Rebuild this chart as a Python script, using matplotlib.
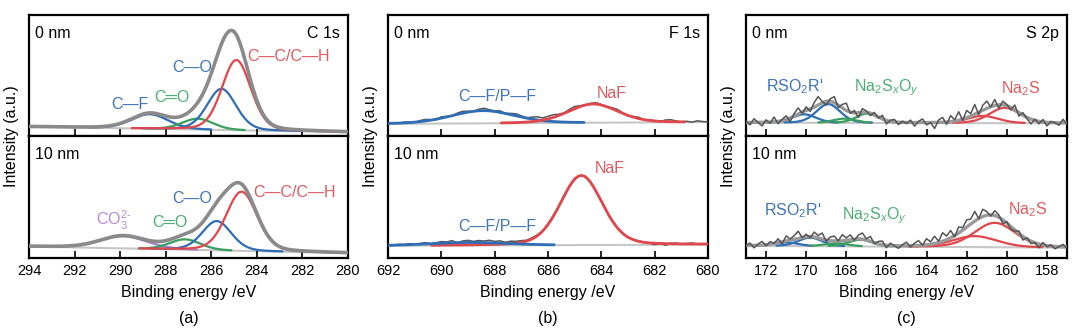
import numpy as np
import matplotlib
matplotlib.use('Agg')
import matplotlib.pyplot as plt

plt.rcParams['font.family'] = ['Liberation Sans', 'DejaVu Sans']
plt.rcParams['mathtext.fontset'] = 'custom'
plt.rcParams['mathtext.rm'] = 'Liberation Sans'
plt.rcParams['mathtext.it'] = 'Liberation Sans:italic'

# ---- data (intensities in axis units, 0..1) ----
# C 1s, 0 nm: peak centre (eV), height, FWHM (eV)
c0_names = ['C—F', 'C═O', 'C—O', 'C—C/C—H']
c0_centers = [288.7, 286.6, 285.55, 284.9]
c0_heights = [0.12, 0.09, 0.34, 0.58]
c0_fwhm = [1.9, 1.6, 1.5, 1.5]
c0_bg = [0.077, 0.032]          # background at 294 eV and 280 eV

# C 1s, 10 nm
c10_names = ['CO$_3^{2\u2010}$', 'C═O', 'C—O', 'C—C/C—H']
c10_centers = [289.85, 287.15, 285.76, 284.67]
c10_heights = [0.10, 0.085, 0.24, 0.485]
c10_fwhm = [2.4, 1.6, 1.5, 1.6]
c10_bg = [0.095, 0.04]

# F 1s, 0 nm
f0_names = ['C—F/P—F', 'NaF']
f0_centers = [688.44, 684.31]
f0_heights = [0.105, 0.155]
f0_fwhm = [2.8, 2.2]
f0_bg = [0.10, 0.115]
f0_resid = [0.000, 0.004, -0.003, 0.006, 0.002, -0.004, 0.008, 0.012, 0.003, -0.006,
            0.010, 0.004, -0.002, 0.009, 0.014, 0.006, -0.003, 0.011, 0.018, 0.007,
            0.002, 0.010, -0.004, 0.006, 0.012, 0.003, -0.005, 0.004, 0.009, -0.002,
            0.006, 0.011, 0.002, -0.003, 0.008, 0.014, 0.004, -0.006, 0.003, 0.010,
            0.002, -0.004, 0.007, 0.012, 0.003, -0.006, 0.004, 0.010, -0.002, 0.005,
            0.001, -0.004, 0.012, 0.016, 0.006, -0.002, 0.004, -0.003, 0.008, 0.002,
            -0.001]

# F 1s, 10 nm
f10_names = ['C—F/P—F', 'NaF']
f10_centers = [689.0, 684.75]
f10_heights = [0.025, 0.57]
f10_fwhm = [3.5, 1.85]
f10_bg = [0.10, 0.11]
f10_resid = [0.002, -0.003, 0.004, 0.000, 0.006, -0.002, 0.003, 0.008, -0.004, 0.002,
             0.010, 0.004, 0.014, -0.006, 0.008, 0.012, 0.003, 0.010, 0.006, 0.013,
             0.004, 0.009, -0.002, 0.006, 0.003, 0.004, -0.002, 0.003, 0.001, -0.003,
             0.004, 0.002, -0.002, 0.005, 0.003, 0.006, -0.002, 0.003, 0.001, -0.003,
             0.004, -0.002, 0.003, -0.001, 0.002, -0.003, 0.004, 0.001, 0.003, 0.000,
             -0.012, 0.004, -0.014, 0.002, 0.006, -0.004, 0.003, 0.008, -0.002, 0.004,
             0.001]

# S 2p, 0 nm (doublets: 2p3/2 and 2p1/2)
s0_names = ['RSO$_2$R\'', 'RSO$_2$R\'', 'Na$_2$S$_x$O$_y$', 'Na$_2$S$_x$O$_y$', 'Na$_2$S', 'Na$_2$S']
s0_centers = [168.9, 170.1, 166.97, 168.1, 160.1, 161.2]
s0_heights = [0.155, 0.07, 0.077, 0.035, 0.127, 0.06]
s0_fwhm = [1.4, 1.4, 1.3, 1.3, 1.8, 1.8]
s0_bg = [0.11, 0.105]
s0_resid = [0.01, -0.02, 0.03, 0.00, -0.03, 0.02, -0.01, 0.04, -0.02, 0.01,
            0.03, -0.03, 0.02, 0.05, -0.01, 0.03, -0.02, 0.04, 0.07, 0.01,
            -0.03, 0.02, 0.05, -0.02, 0.03, 0.06, -0.01, 0.02, -0.04, 0.03,
            0.01, -0.02, 0.02, -0.01, 0.03, -0.03, 0.01, 0.02, -0.02, 0.01,
            -0.01, 0.02, -0.03, 0.01, 0.03, -0.02, 0.00, -0.05, 0.02, 0.04,
            -0.02, 0.05, 0.01, 0.07, -0.01, 0.06, 0.02, 0.08, -0.02, 0.04,
            0.06, 0.00, 0.05, -0.03, 0.03, 0.01, -0.02, 0.04, -0.03, 0.02,
            -0.01, -0.04, 0.01, -0.02, 0.02, -0.03, 0.01, 0.00, -0.02, 0.03,
            -0.01]

# S 2p, 10 nm
s10_names = s0_names
s10_centers = [169.8, 171.0, 167.3, 168.5, 160.6, 161.6]
s10_heights = [0.07, 0.03, 0.055, 0.025, 0.2, 0.09]
s10_fwhm = [1.4, 1.4, 1.4, 1.4, 2.4, 2.6]
s10_bg = [0.10, 0.085]
s10_resid = [0.00, 0.02, -0.02, 0.01, 0.03, -0.01, 0.02, 0.00, 0.03, -0.02,
             0.04, 0.01, 0.03, 0.06, 0.00, 0.02, -0.01, 0.04, 0.02, 0.05,
             -0.01, 0.03, 0.04, 0.00, 0.05, 0.02, 0.04, -0.01, 0.03, 0.05,
             0.01, 0.04, -0.01, 0.02, 0.03, -0.02, 0.02, 0.00, -0.02, 0.01,
             0.03, -0.01, 0.02, 0.04, 0.00, 0.05, 0.02, 0.06, 0.01, 0.07,
             0.03, 0.06, -0.01, 0.05, 0.02, 0.06, 0.04, 0.08, 0.00, 0.06,
             0.03, -0.01, 0.04, 0.02, -0.03, 0.01, -0.02, -0.01, 0.02, -0.03,
             0.01, -0.02, 0.00, -0.03, 0.02, -0.01, 0.01, -0.02, 0.00, 0.02,
             -0.01]

RED = '#E0464B'
BLUE = '#2F6DB5'
GREEN = '#3A9E5E'
PURPLE = '#A67DD0'
TXT = {RED: '#E05A5E', BLUE: '#3E74BA', GREEN: '#4DAE74', PURPLE: '#B58BD8'}
GRAY = '#8A8A8A'
DARK = '#555555'
BGC = '#C6C6C6'

c0_colors = [BLUE, GREEN, BLUE, RED]
c10_colors = [PURPLE, GREEN, BLUE, RED]
f_colors = [BLUE, RED]
s_colors = [BLUE, BLUE, GREEN, GREEN, RED, RED]


def peak(e, c, h, w, mix=0.2):
    # Gaussian-Lorentzian line shape used by the fit
    d = (e - c) / w
    return h * ((1 - mix) * np.exp(-4 * np.log(2) * d ** 2) + mix / (1 + 4 * d ** 2))


def setup(ax, xlim, ticks, bottom):
    ax.set_xlim(*xlim)
    ax.set_ylim(0, 1)
    ax.set_yticks([])
    ax.set_xticks(ticks)
    ax.tick_params(axis='x', direction='in', length=5, width=1.2, labelsize=10.5,
                   pad=4, labelbottom=bottom)
    for s in ax.spines.values():
        s.set_linewidth(1.6)


fig = plt.figure(figsize=(10.8, 3.3), dpi=100)
W, H = 1080, 330
cols = [(29, 348), (388, 708), (746, 1067)]
rows = [(15, 136), (136, 258)]


def make_axes(col, row):
    x0, x1 = cols[col]
    y0, y1 = rows[row]
    return fig.add_axes([x0 / W, 1 - y1 / H, (x1 - x0) / W, (y1 - y0) / H])


def draw(ax, xlim, centers, heights, fwhm, bg, colors, resid=None, envelope=False,
         comps_on_top=False):
    e = np.linspace(xlim[0], xlim[1], 600)
    base = bg[0] + (bg[1] - bg[0]) * (e - xlim[0]) / (xlim[1] - xlim[0])
    comps = [peak(e, c, h, w) for c, h, w in zip(centers, heights, fwhm)]
    total = base + np.sum(comps, axis=0)
    ax.plot(e, base, color=BGC, lw=1.5, zorder=1)
    zc = 4 if comps_on_top else 2
    lw = 2.0 if comps_on_top else 1.6
    for y, col in zip(comps, colors):
        yy = np.where(y > 0.003, base + y, np.nan)
        ax.plot(e, yy, color=col, lw=lw, zorder=zc, solid_capstyle='round')
    if resid is None:
        ax.plot(e, total, color=GRAY, lw=2.6, zorder=3, solid_capstyle='round')
        return
    if envelope:
        ax.plot(e, total, color='#9A9A9A', lw=2.4, zorder=3)
    er = np.linspace(xlim[0], xlim[1], len(resid))
    br = bg[0] + (bg[1] - bg[0]) * (er - xlim[0]) / (xlim[1] - xlim[0])
    raw = br + np.sum([peak(er, c, h, w) for c, h, w in zip(centers, heights, fwhm)],
                      axis=0) + np.array(resid)
    ax.plot(er, raw, color=DARK, lw=1.1, zorder=3.5)


def corner(ax, left, right=None):
    ax.text(0.02, 0.85, left, transform=ax.transAxes, fontsize=11.5, va='center', ha='left')
    if right:
        ax.text(0.975, 0.85, right, transform=ax.transAxes, fontsize=11.5, va='center',
                ha='right')


def label(ax, x, y, s, col):
    ax.text(x, y, s, color=TXT[col], fontsize=11.5, ha='center', va='center', zorder=6)


# ---- (a) C 1s ----
xa = (294, 280)
ta = list(range(294, 279, -2))
ax = make_axes(0, 0)
setup(ax, xa, ta, False)
draw(ax, xa, c0_centers, c0_heights, c0_fwhm, c0_bg, c0_colors)
corner(ax, '0 nm', 'C 1s')
for x, y, i in [(289.57, 0.26, 0), (287.73, 0.32, 1), (286.85, 0.565, 2), (282.6, 0.655, 3)]:
    label(ax, x, y, c0_names[i], c0_colors[i])

ax = make_axes(0, 1)
setup(ax, xa, ta, True)
draw(ax, xa, c10_centers, c10_heights, c10_fwhm, c10_bg, c10_colors)
corner(ax, '10 nm')
for x, y, i in [(290.3, 0.31, 0), (287.8, 0.29, 1), (286.85, 0.49, 2), (282.35, 0.54, 3)]:
    label(ax, x, y, c10_names[i], c10_colors[i])

# ---- (b) F 1s ----
xb = (692, 680)
tb = list(range(692, 679, -2))
ax = make_axes(1, 0)
setup(ax, xb, tb, False)
draw(ax, xb, f0_centers, f0_heights, f0_fwhm, f0_bg, f_colors, resid=f0_resid,
     comps_on_top=True)
corner(ax, '0 nm', 'F 1s')
label(ax, 687.9, 0.325, f0_names[0], BLUE)
label(ax, 683.6, 0.355, f0_names[1], RED)

ax = make_axes(1, 1)
setup(ax, xb, tb, True)
draw(ax, xb, f10_centers[::-1], f10_heights[::-1], f10_fwhm[::-1], f10_bg, f_colors[::-1],
     resid=f10_resid, comps_on_top=True)
corner(ax, '10 nm')
label(ax, 687.9, 0.255, f10_names[0], BLUE)
label(ax, 683.7, 0.735, f10_names[1], RED)

# ---- (c) S 2p ----
xc = (173, 157)
tc = list(range(172, 157, -2))
ax = make_axes(2, 0)
setup(ax, xc, tc, False)
draw(ax, xc, s0_centers, s0_heights, s0_fwhm, s0_bg, s_colors, resid=s0_resid, envelope=True)
corner(ax, '0 nm', 'S 2p')
label(ax, 170.6, 0.405, s0_names[0], BLUE)
label(ax, 166.0, 0.40, s0_names[2], GREEN)
label(ax, 159.3, 0.39, s0_names[4], RED)

ax = make_axes(2, 1)
setup(ax, xc, tc, True)
draw(ax, xc, s10_centers, s10_heights, s10_fwhm, s10_bg, s_colors, resid=s10_resid,
     envelope=True)
corner(ax, '10 nm')
label(ax, 170.7, 0.39, s10_names[0], BLUE)
label(ax, 166.6, 0.35, s10_names[2], GREEN)
label(ax, 158.95, 0.40, s10_names[4], RED)

# shared labels
for (x0, x1), yl, tag in zip(cols, [12, 371, 729], ['(a)', '(b)', '(c)']):
    xc_ = (x0 + x1) / 2 / W
    fig.text(xc_, 1 - 293 / H, 'Binding energy /eV', ha='center', va='center', fontsize=11.5)
    fig.text(xc_, 1 - 318 / H, tag, ha='center', va='center', fontsize=11.5)
    fig.text(yl / W, 1 - 136 / H, 'Intensity (a.u.)', rotation=90, ha='center',
             va='center', fontsize=11.5)

fig.savefig('out.png', dpi=100)
